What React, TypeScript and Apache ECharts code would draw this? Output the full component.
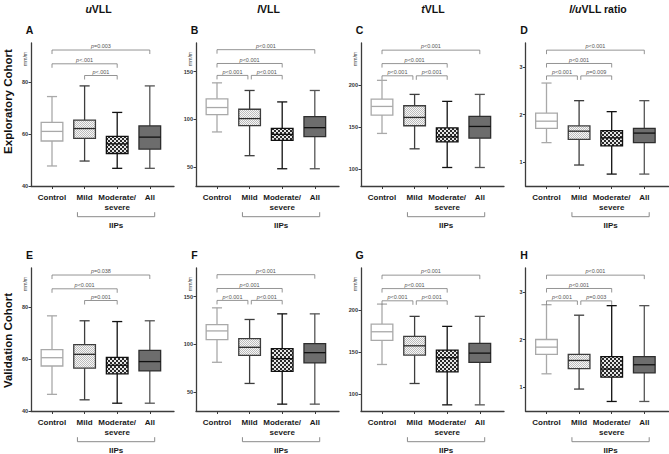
import React, { useEffect, useRef } from 'react';
import * as echarts from 'echarts';

// ---------- data ----------
const categories = ['Control', 'Mild', 'Moderate/\nsevere', 'All'];
const columnTitles = ['{i|u}VLL', '{i|l}VLL', '{i|t}VLL', '{i|l/u}VLL ratio'];
const rowTitles = ['Exploratory Cohort', 'Validation Cohort'];
const panelLetters = ['A', 'B', 'C', 'D', 'E', 'F', 'G', 'H'];
const unitLabel = 'mm/m';
const groupLabel = 'IIPs';

// box rows: [min, Q1, median, Q3, max]
const uVLL_exploratory = [[47.7, 57.3, 61.0, 64.5, 74.4], [49.6, 58.3, 62.1, 65.3, 78.5], [46.8, 52.5, 56.2, 59.1, 68.3], [46.8, 54.2, 58.8, 63.1, 78.5]];
const lVLL_exploratory = [[86.7, 104.9, 112.3, 121.4, 138.2], [61.8, 93.3, 100.7, 110.5, 130.2], [48.1, 77.9, 84.2, 90.5, 118.2], [48.1, 81.8, 91.2, 102.8, 130.2]];
const tVLL_exploratory = [[142.5, 164.3, 174.6, 183.3, 205.6], [124.2, 151.6, 161.5, 175.4, 188.9], [102.0, 132.5, 138.5, 149.2, 180.6], [102.0, 136.9, 150.8, 162.7, 188.9]];
const ratio_exploratory = [[1.41, 1.71, 1.86, 2.03, 2.66], [0.94, 1.48, 1.65, 1.76, 2.29], [0.75, 1.34, 1.51, 1.66, 2.06], [0.75, 1.41, 1.61, 1.71, 2.29]];
const uVLL_validation = [[46.4, 57.3, 60.5, 63.6, 76.6], [44.3, 56.5, 61.8, 65.5, 74.7], [43.0, 54.3, 57.6, 60.6, 74.4], [43.0, 55.4, 59.0, 63.3, 74.7]];
const lVLL_validation = [[81.1, 104.9, 114.0, 120.7, 138.2], [58.9, 88.4, 96.8, 106.0, 126.0], [37.2, 71.6, 84.9, 95.4, 131.9], [37.2, 80.4, 91.2, 100.7, 131.9]];
const tVLL_validation = [[135.3, 163.9, 174.2, 183.3, 207.1], [112.7, 146.4, 157.5, 168.7, 192.5], [87.3, 126.6, 143.3, 152.4, 180.6], [87.3, 137.7, 148.8, 160.3, 192.5]];
const ratio_validation = [[1.28, 1.69, 1.84, 2.0, 2.73], [0.96, 1.39, 1.56, 1.69, 2.51], [0.70, 1.21, 1.38, 1.64, 2.71], [0.70, 1.30, 1.47, 1.64, 2.71]];

// significance brackets: [from category, to category, level, label]
const bracketsA = [[0, 3, 92.3, 'p=0.003'], [0, 2, 87.0, 'p<.001'], [1, 2, 82.5, 'p<.001']];
const bracketsB = [[0, 3, 173, 'p<0.001'], [0, 2, 158.5, 'p<0.001'], [0, 1, 146, 'p<0.001'], [1, 2, 146, 'p<0.001']];
const bracketsC = [[0, 3, 241.5, 'p<0.001'], [0, 2, 225.5, 'p<0.001'], [0, 1, 211, 'p<0.001'], [1, 2, 211, 'p<0.001']];
const bracketsD = [[0, 3, 3.35, 'p<0.001'], [0, 2, 3.07, 'p<0.001'], [0, 1, 2.81, 'p<0.001'], [1, 2, 2.81, 'p=0.009']];
const bracketsE = [[0, 3, 92.3, 'p=0.038'], [0, 2, 87.0, 'p<0.001'], [1, 2, 82.5, 'p=0.001']];
const bracketsF = [[0, 3, 173, 'p<0.001'], [0, 2, 158.5, 'p<0.001'], [0, 1, 146, 'p<0.001'], [1, 2, 146, 'p<0.001']];
const bracketsG = [[0, 3, 241.5, 'p<0.001'], [0, 2, 225.5, 'p<0.001'], [0, 1, 211, 'p<0.001'], [1, 2, 211, 'p<0.001']];
const bracketsH = [[0, 3, 3.35, 'p<0.001'], [0, 2, 3.07, 'p<0.001'], [0, 1, 2.81, 'p<0.001'], [1, 2, 2.81, 'p=0.003']];

const groupSpan = [1, 3]; // IIPs: Mild .. All

// y axes per column
const yMinByCol = [40, 30, 80, 0.5];
const yMaxByCol = [95, 180, 250, 3.5];
const ticksU = [40, 60, 80];
const ticksL = [50, 100, 150];
const ticksT = [100, 150, 200];
const ticksR = [1, 2, 3];
const ticksByCol = [ticksU, ticksL, ticksT, ticksR];
const unitByCol = [true, true, true, false];

const boxesByPanel = [uVLL_exploratory, lVLL_exploratory, tVLL_exploratory, ratio_exploratory, uVLL_validation, lVLL_validation, tVLL_validation, ratio_validation];
const bracketsByPanel = [bracketsA, bracketsB, bracketsC, bracketsD, bracketsE, bracketsF, bracketsG, bracketsH];

// ---------- layout ----------
const FONT = '"Liberation Sans", Arial, Helvetica, sans-serif';
const COL_X = [31, 196, 361, 525.5];
const ROW_TOP = [43, 268];
const PLOT_H = 143;
const AXIS_W = 143;
const BAND = 32.6;
const FIRST = 21;
const AXIS_COLOR = '#3c3c3c';
const TITLE_X = [98.5, 268.5, 433, 598];
const ROW_LABEL_Y = [101.5, 340.5];

function makePattern(a: string, b: string, cell: number) {
  const c = document.createElement('canvas');
  c.width = cell * 2;
  c.height = cell * 2;
  const ctx = c.getContext('2d')!;
  ctx.fillStyle = a;
  ctx.fillRect(0, 0, cell * 2, cell * 2);
  ctx.fillStyle = b;
  ctx.fillRect(0, 0, cell, cell);
  ctx.fillRect(cell, cell, cell, cell);
  return { image: c.toDataURL(), repeat: 'repeat', imageWidth: cell * 2, imageHeight: cell * 2 };
}

function pText(s: string) {
  return s.replace(/^p/, '{i|p}');
}

export default function App() {
  const ref = useRef<HTMLDivElement>(null);
  useEffect(() => {
    if (!ref.current) return;
    const chart = echarts.init(ref.current, undefined, { renderer: 'svg' });

    const mildFill = makePattern('#f7f7f7', '#bdbdbd', 1);
    const modFill = makePattern('#e6e6e6', '#2a2a2a', 2);
    const boxStyles = [
      { fill: '#ffffff', stroke: '#a9a9a9', whisker: '#a9a9a9', median: '#a9a9a9' },
      { fill: mildFill, stroke: '#3d3d3d', whisker: '#3d3d3d', median: '#2a2a2a' },
      { fill: modFill, stroke: '#111111', whisker: '#111111', median: '#111111' },
      { fill: '#6d6d6d', stroke: '#2e2e2e', whisker: '#555555', median: '#111111' },
    ];
    const LW = 1.3;

    const boxRenderer = (params: any, api: any) => {
      const i = api.value(0);
      const bw = api.size([1, 0])[0];
      const lo = api.coord([i, api.value(1)]);
      const q1 = api.coord([i, api.value(2)])[1];
      const med = api.coord([i, api.value(3)])[1];
      const q3 = api.coord([i, api.value(4)])[1];
      const hi = api.coord([i, api.value(5)])[1];
      const cx = lo[0];
      const st = boxStyles[i];
      const hw = (bw * 0.665) / 2;
      const cw = (bw * 0.31) / 2;
      const ln = (x1: number, y1: number, x2: number, y2: number, c: string) => ({
        type: 'line', shape: { x1, y1, x2, y2 }, style: { stroke: c, lineWidth: LW },
      });
      return {
        type: 'group',
        children: [
          ln(cx, hi, cx, q3, st.whisker),
          ln(cx, q1, cx, lo[1], st.whisker),
          ln(cx - cw, hi, cx + cw, hi, st.whisker),
          ln(cx - cw, lo[1], cx + cw, lo[1], st.whisker),
          { type: 'rect', shape: { x: cx - hw, y: q3, width: hw * 2, height: q1 - q3 }, style: { fill: st.fill, stroke: st.stroke, lineWidth: LW } },
          ln(cx - hw, med, cx + hw, med, st.median),
        ],
      };
    };

    const makeBracketRenderer = (list: any[]) => (params: any, api: any) => {
      const b = list[params.dataIndex];
      const a = api.value(0);
      const e = api.value(1);
      const y = api.value(2);
      const p1 = api.coord([a, y]);
      const p2 = api.coord([e, y]);
      const sharesLeft = list.some((o) => o !== b && o[2] === b[2] && o[1] === b[0]);
      const sharesRight = list.some((o) => o !== b && o[2] === b[2] && o[0] === b[1]);
      const x1 = p1[0] + (sharesLeft ? 1.7 : 0);
      const x2 = p2[0] - (sharesRight ? 1.7 : 0);
      const yy = p1[1];
      return {
        type: 'group',
        children: [
          {
            type: 'polyline',
            shape: { points: [[x1, yy + 4], [x1, yy], [x2, yy], [x2, yy + 4]] },
            style: { stroke: '#7a7a7a', lineWidth: 0.8, fill: null },
          },
          {
            type: 'text',
            style: {
              text: pText(b[3]),
              x: (x1 + x2) / 2,
              y: yy - 0.8,
              align: 'center',
              verticalAlign: 'bottom',
              fontSize: 5.5,
              fontFamily: FONT,
              fill: '#555555',
              rich: { i: { fontStyle: 'italic', fontSize: 5.5, fontFamily: FONT, fill: '#555555' } },
            },
          },
        ],
      };
    };

    const groupRenderer = (params: any, api: any) => {
      const bw = api.size([1, 0])[0];
      const l = api.coord([api.value(0), api.value(2)]);
      const r = api.coord([api.value(1), api.value(2)]);
      const xL = l[0] - bw * 0.22;
      const xR = r[0] + bw * 0.15;
      const yB = l[1] + 30.7;
      return {
        type: 'group',
        children: [
          {
            type: 'polyline',
            shape: { points: [[xL, yB - 4.5], [xL, yB], [xR, yB], [xR, yB - 4.5]] },
            style: { stroke: '#8a8a8a', lineWidth: 1, fill: null },
          },
          {
            type: 'text',
            style: {
              text: groupLabel,
              x: (xL + xR) / 2,
              y: yB + 8.3,
              align: 'center',
              verticalAlign: 'middle',
              fontSize: 8,
              fontWeight: 'bold',
              fontFamily: FONT,
              fill: '#1a1a1a',
            },
          },
        ],
      };
    };

    const grids: any[] = [];
    const xAxes: any[] = [];
    const yAxes: any[] = [];
    const series: any[] = [];
    const graphics: any[] = [];

    boxesByPanel.forEach((box, k) => {
      const col = k % 4;
      const row = Math.floor(k / 4);
      const yX = COL_X[col];
      const top = ROW_TOP[row];
      const min = yMinByCol[col];
      const max = yMaxByCol[col];
      const ticks = ticksByCol[col];
      const gBox = grids.length;
      grids.push({ left: yX + FIRST - BAND / 2, top, width: BAND * 4, height: PLOT_H, outerBoundsMode: 'none', containLabel: false });
      grids.push({ left: yX, top, width: AXIS_W, height: PLOT_H, outerBoundsMode: 'none', containLabel: false });
      const gAx = gBox + 1;
      xAxes.push({
        type: 'category', gridIndex: gBox, data: categories, boundaryGap: true,
        axisLine: { show: false, onZero: false },
        axisTick: { show: true, alignWithLabel: true, length: 3, lineStyle: { color: AXIS_COLOR, width: 1 } },
        axisLabel: { interval: 0, margin: 6, fontSize: 8, fontWeight: 'bold', fontFamily: FONT, color: '#1a1a1a', lineHeight: 10 },
        splitLine: { show: false },
      });
      xAxes.push({
        type: 'value', gridIndex: gAx, min: 0, max: 1,
        axisLine: { show: true, onZero: false, lineStyle: { color: AXIS_COLOR, width: 1.3 } },
        axisTick: { show: false }, axisLabel: { show: false }, splitLine: { show: false },
      });
      yAxes.push({ type: 'value', gridIndex: gBox, min, max, show: false, splitLine: { show: false } });
      yAxes.push({
        type: 'value', gridIndex: gAx, min, max,
        axisLine: { show: true, onZero: false, lineStyle: { color: AXIS_COLOR, width: 1.3 } },
        axisTick: { show: true, length: 2.5, customValues: ticks, lineStyle: { color: AXIS_COLOR, width: 1 } },
        axisLabel: { customValues: ticks, fontSize: 5.5, fontWeight: 'bold', margin: 3, color: '#333333', fontFamily: FONT },
        splitLine: { show: false },
      });
      const ax = gBox;
      series.push({
        type: 'custom', xAxisIndex: ax, yAxisIndex: ax, silent: true, z: 3,
        data: box.map((r, i) => [i, ...r]),
        encode: { x: 0, y: [1, 2, 3, 4, 5] },
        renderItem: boxRenderer,
      });
      const br = bracketsByPanel[k];
      series.push({
        type: 'custom', xAxisIndex: ax, yAxisIndex: ax, silent: true, clip: false, z: 4,
        data: br.map((b) => [b[0], b[1], b[2]]),
        encode: { x: [0, 1], y: 2 },
        renderItem: makeBracketRenderer(br),
      });
      series.push({
        type: 'custom', xAxisIndex: ax, yAxisIndex: ax, silent: true, clip: false, z: 4,
        data: [[groupSpan[0], groupSpan[1], min]],
        encode: { x: [0, 1], y: 2 },
        renderItem: groupRenderer,
      });

      // panel letter
      graphics.push({
        type: 'text', x: yX - 1.5, y: top - 13, silent: true,
        style: { text: panelLetters[k], fontSize: 10.5, fontWeight: 'bold', fontFamily: FONT, fill: '#111111', align: 'center', textAlign: 'center', verticalAlign: 'middle', textVerticalAlign: 'middle' },
      });
      if (unitByCol[col]) {
        graphics.push({
          type: 'text', x: yX - 6, y: top + 16, rotation: Math.PI / 2, silent: true,
          style: { text: unitLabel, fontSize: 5, fontFamily: FONT, fill: '#444444', align: 'center', textAlign: 'center', verticalAlign: 'middle', textVerticalAlign: 'middle' },
        });
      }
    });

    columnTitles.forEach((t, c) => {
      graphics.push({
        type: 'text', x: TITLE_X[c], y: 9, silent: true,
        style: {
          text: t, fontSize: 10.5, fontWeight: 'bold', fontFamily: FONT, fill: '#111111',
          align: 'center', textAlign: 'center', verticalAlign: 'middle', textVerticalAlign: 'middle',
          rich: { i: { fontStyle: 'italic', fontWeight: 'bold', fontSize: 10.5, fontFamily: FONT, fill: '#111111' } },
        },
      });
    });
    rowTitles.forEach((t, r) => {
      graphics.push({
        type: 'text', x: 7.5, y: ROW_LABEL_Y[r], rotation: Math.PI / 2, silent: true,
        style: { text: t, fontSize: 11.5, fontWeight: 'bold', fontFamily: FONT, fill: '#111111', align: 'center', textAlign: 'center', verticalAlign: 'middle', textVerticalAlign: 'middle' },
      });
    });

    chart.setOption({
      animation: false,
      backgroundColor: '#ffffff',
      grid: grids,
      xAxis: xAxes,
      yAxis: yAxes,
      series,
      graphic: { elements: graphics },
    });
    return () => chart.dispose();
  }, []);

  return <div ref={ref} style={{ position: 'fixed', left: 0, top: 0, width: 669, height: 454, background: '#fff' }} />;
}
